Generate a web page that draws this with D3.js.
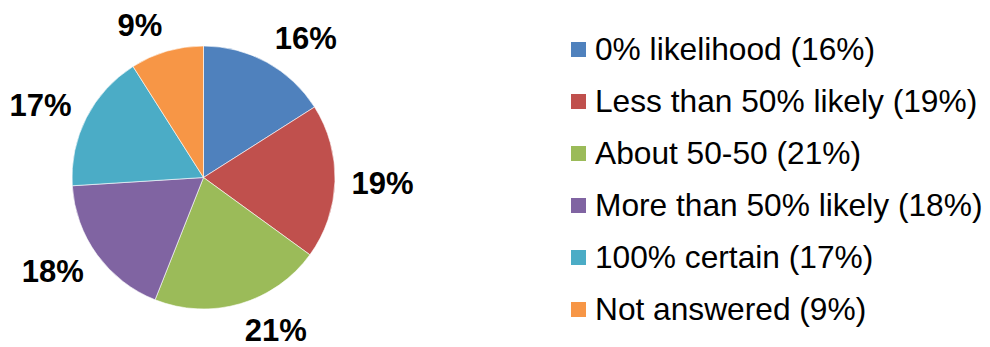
<!DOCTYPE html>
<html>
<head>
<meta charset="utf-8">
<script src="https://cdn.jsdelivr.net/npm/d3@7"></script>
<style>
  html, body { margin: 0; padding: 0; background: #fff; }
  svg { display: block; }
</style>
</head>
<body>
<svg id="chart" width="990" height="347"></svg>
<script>
// ---- data ----
const categories = ["0% likelihood", "Less than 50% likely", "About 50-50", "More than 50% likely", "100% certain", "Not answered"];
const values = [16, 19, 21, 18, 17, 9];
const colors = ["#4F81BD", "#C0504D", "#9BBB59", "#8064A2", "#4BACC6", "#F79646"];

// ---- layout ----
const W = 990, H = 347;
const cx = 203.5, cy = 177.5, r = 131.5;
const labelFont = 31, legendFont = 31.7;
const fontFamily = "'Liberation Sans', Arial, Helvetica, sans-serif";

const svg = d3.select("#chart");
const data = categories.map((c, i) => ({ cat: c, value: values[i], color: colors[i] }));
const total = d3.sum(values);
const fmt = v => Math.round(v / total * 100) + "%";

const pie = d3.pie().value(d => d.value).sort(null);
const arcs = pie(data);
const arc = d3.arc().innerRadius(0).outerRadius(r);

const g = svg.append("g").attr("transform", `translate(${cx},${cy})`);
g.selectAll("path.slice").data(arcs).enter().append("path")
  .attr("class", "slice")
  .attr("d", arc)
  .attr("fill", d => d.data.color)
  .attr("stroke", "#ffffff")
  .attr("stroke-width", 0.6);

// data labels: placed outside end, box pushed away from pie
const labelR = r + 16.5;
const capH = 0.716 * labelFont;
g.selectAll("text.lbl").data(arcs).enter().append("text")
  .attr("class", "lbl")
  .attr("font-family", fontFamily)
  .attr("font-weight", "bold")
  .attr("font-size", labelFont)
  .attr("fill", "#000")
  .attr("text-anchor", "middle")
  .text(d => fmt(d.data.value))
  .each(function(d) {
    const a = (d.startAngle + d.endAngle) / 2;
    const w = this.getComputedTextLength();
    const s = Math.sin(a), c = Math.cos(a);
    const x = labelR * s + Math.sign(s) * w / 2;
    const y = -labelR * c - c * capH / 2;
    d3.select(this).attr("x", x).attr("y", y + capH / 2);
  });

// legend
const legX = 571, legY0 = 60, legStep = 52, sw = 15;
const leg = svg.append("g");
const rows = leg.selectAll("g.row").data(data).enter().append("g")
  .attr("class", "row")
  .attr("transform", (d, i) => `translate(${legX},${legY0 + i * legStep})`);
rows.append("rect")
  .attr("x", 0).attr("y", -18)
  .attr("width", sw).attr("height", sw)
  .attr("fill", d => d.color);
rows.append("text")
  .attr("x", 24).attr("y", 0)
  .attr("font-family", fontFamily)
  .attr("font-size", legendFont)
  .attr("fill", "#000")
  .text(d => `${d.cat} (${fmt(d.value)})`);
</script>
</body>
</html>
